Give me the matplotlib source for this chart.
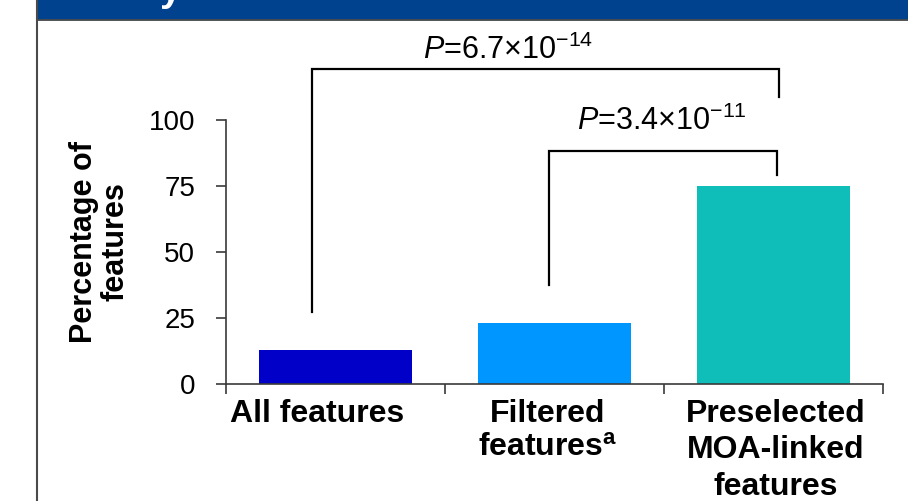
import matplotlib
matplotlib.use("Agg")
import matplotlib.pyplot as plt
from matplotlib.lines import Line2D
from matplotlib.patches import Rectangle

plt.rcParams["font.family"] = ["Liberation Sans", "DejaVu Sans"]
plt.rcParams["mathtext.fontset"] = "custom"
plt.rcParams["mathtext.rm"] = "Liberation Sans"
plt.rcParams["mathtext.it"] = "Liberation Sans:italic"
plt.rcParams["mathtext.bf"] = "Liberation Sans:bold"

# ---- data ----
categories = ["All features",
              "Filtered\nfeatures$^{\\mathbf{a}}$",
              "Preselected\nMOA-linked\nfeatures"]
percentages = [13, 23, 75]
bar_colors = ["#0000C8", "#0096FF", "#10BEB9"]
y_ticks = [0, 25, 50, 75, 100]
# (left group, right group, mantissa, exponent)
comparisons = [(0, 2, "6.7", "-14"), (1, 2, "3.4", "-11")]

W, H = 908, 501
fig = plt.figure(figsize=(W / 100, H / 100), dpi=100)

# slide frame: header band and left rule
fig.patches.append(Rectangle((37 / W, 1 - 19 / H), 1 - 37 / W, 19 / H,
                             transform=fig.transFigure, color="#00428E", zorder=0))
fig.lines.append(Line2D([37 / W, 1], [1 - 19.5 / H] * 2, transform=fig.transFigure,
                        color="#4a4a4a", lw=1.3))
fig.lines.append(Line2D([37 / W] * 2, [0, 1], transform=fig.transFigure,
                        color="#4a4a4a", lw=1.5))
fig.text(160 / W, 1 - 1 / H, "y", color="white", fontsize=28, fontweight="bold",
         va="baseline", ha="left")

ax = fig.add_axes([226 / W, 117 / H, 657 / W, 264 / H])
x = list(range(len(categories)))
ax.bar(x, percentages, width=0.70, color=bar_colors, zorder=2)
ax.set_xlim(-0.5, len(categories) - 0.5)
ax.set_ylim(0, 100)

axis_col = "#3a3a3a"
for side in ("top", "right"):
    ax.spines[side].set_visible(False)
for side in ("left", "bottom"):
    ax.spines[side].set_color(axis_col)
    ax.spines[side].set_linewidth(1.2)

ax.set_yticks(y_ticks)
ax.set_yticklabels([str(v) for v in y_ticks])
ax.tick_params(axis="y", direction="out", length=7.2, width=1.2, color=axis_col,
               labelsize=20, pad=15)

# category separators on the x axis, labels drawn separately
ax.set_xticks([i - 0.5 for i in range(len(categories) + 1)])
ax.set_xticklabels([])
ax.tick_params(axis="x", direction="out", length=7.2, width=1.2, color=axis_col)

label_shift = [-0.082, -0.032, 0.011]
label_spacing = [1.3, 1.2, 1.3]
for i, lab in enumerate(categories):
    ax.text(i + label_shift[i], -0.055, lab, transform=ax.get_xaxis_transform(),
            ha="center", va="top", multialignment="center", fontsize=23,
            fontweight="bold", linespacing=label_spacing[i])

fig.text(100 / W, 1 - 242 / H, "Percentage of\nfeatures", rotation=90,
         ha="center", va="center", multialignment="center", fontsize=22,
         fontweight="bold", linespacing=1.05)

# significance brackets
bracket_geom = [
    # left x offset, right x offset, top y, left leg end, right leg end, label x, label y
    (-0.107, 0.025, 119.3, 27.3, 108.7, 0.79, 123.0),
    (-0.025, 0.016, 88.3, 37.5, 79.2, 1.49, 96.2),
]
for (g0, g1, mant, expo), (l_off, r_off, top, l_end, r_end, tx, ty) in zip(comparisons, bracket_geom):
    xl, xr = g0 + l_off, g1 + r_off
    ax.plot([xl, xl, xr, xr], [l_end, top, top, r_end], color="black", lw=1.6,
            clip_on=False, solid_joinstyle="miter", zorder=3)
    ax.text(tx, ty, "$P$=" + mant + "\u00d710$^{" + expo + "}$", ha="center",
            va="baseline", fontsize=22, clip_on=False)

fig.savefig("out.png", dpi=100)
